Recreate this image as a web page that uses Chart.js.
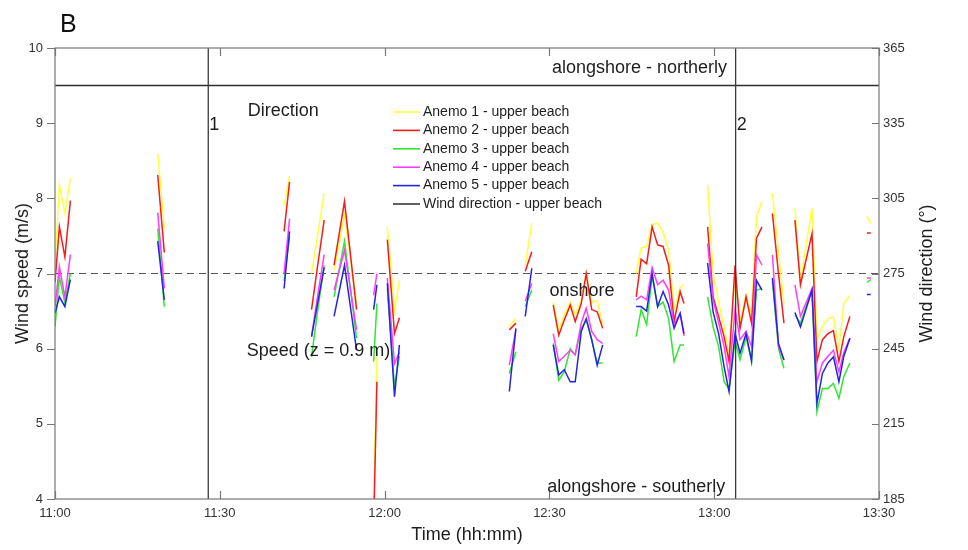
<!DOCTYPE html>
<html lang="en">
<head>
<meta charset="UTF-8">
<title>Wind speed and direction - upper beach</title>
<script src="https://cdn.jsdelivr.net/npm/chart.js@4.4.1/dist/chart.umd.min.js"></script>
<style>
  body { margin: 0; background: #fff; }
  #wrap { width: 968px; height: 550px; position: relative; }
</style>
</head>
<body>
<div id="wrap"><canvas id="windChart" width="968" height="550"></canvas></div>
<script>
// time in minutes after 11:00; a null in the value arrays is a gap in the record
const times = [
  0, 0.8, 1.8, 2.8, 10,
  18.7, 19.9, 30,
  41.7, 42.7, 44.5,
  46.7, 47.8, 49.0, 49.9,
  50.8, 52.7, 54.9, 56.5,
  58.0, 58.6, 59.5,
  60.5, 61.8, 62.7, 72,
  82.7, 83.9, 84.7,
  85.6, 86.8, 88.5,
  90.7, 91.7, 92.7, 93.8, 94.7, 95.8, 96.7, 97.7, 98.7, 99.7, 102,
  105.8, 106.7, 107.7, 108.7, 109.7, 110.7, 111.7, 112.7, 113.8, 114.5, 116.5,
  118.8, 119.8, 120.8, 121.8, 122.7, 123.8, 124.7, 125.8, 126.8, 127.7, 128.7, 129.6,
  130.6, 131.7, 132.7, 133.7,
  134.7, 135.7, 137.8, 138.7, 139.7, 140.7, 141.7, 142.7, 143.6, 144.7, 146,
  147.8, 148.5
];

// wind speed (m/s)
const anemo1 = [
  7.11, 8.18, 7.80, 8.27, null,
  8.60, 7.60, null,
  7.90, 8.30, null,
  7.00, 7.50, 8.07, null,
  7.05, 7.78, 6.60, null,
  3.80, 5.90, null,
  7.62, 6.50, 6.91, null,
  6.30, 6.40, null,
  7.11, 7.67, null,
  6.62, 6.25, 6.45, 6.62, 6.45, 6.64, 7.00, 6.62, 6.64, 6.32, null,
  7.00, 7.34, 7.36, 7.65, 7.67, 7.55, 7.31, 6.52, 6.81, 6.85, null,
  8.18, 7.00, 6.62, 6.30, 5.90, 6.95, 6.35, 6.72, 6.45, 7.76, 7.96, null,
  8.07, 7.30, 6.60, null,
  7.87, 6.90, 7.87, 6.12, 6.30, 6.40, 6.42, 6.00, 6.60, 6.71, null,
  7.76, 7.67
];
const anemo2 = [
  6.88, 7.62, 7.22, 7.97, null,
  8.31, 7.28, null,
  7.56, 8.22, null,
  6.52, 7.10, 7.71, null,
  7.11, 7.96, 6.52, null,
  3.60, 5.56, null,
  7.45, 6.20, 6.41, null,
  6.25, 6.34, null,
  7.03, 7.29, null,
  6.58, 6.18, 6.38, 6.58, 6.36, 6.60, 7.00, 6.52, 6.49, 6.27, null,
  6.69, 7.19, 7.13, 7.62, 7.38, 7.36, 7.11, 6.36, 6.76, 6.60, null,
  7.62, 6.69, 6.43, 6.16, 5.83, 7.11, 6.27, 6.69, 6.34, 7.47, 7.62, null,
  7.80, 7.00, 6.34, null,
  7.71, 6.85, 7.53, 5.83, 6.12, 6.20, 6.24, 5.83, 6.16, 6.43, null,
  7.54, 7.54
];
const anemo3 = [
  6.29, 6.96, 6.61, 7.00, null,
  7.60, 6.56, null,
  6.90, 7.50, null,
  5.89, 6.50, 7.11, null,
  6.69, 7.43, 6.14, null,
  5.83, 6.60, null,
  6.80, 5.50, 5.90, null,
  5.67, 5.96, null,
  6.56, 6.78, null,
  6.07, 5.58, 5.69, 6.00, 5.92, 6.27, 6.38, 6.12, 5.81, 5.81, null,
  6.16, 6.52, 6.32, 6.96, 6.56, 6.62, 6.40, 5.83, 6.05, 6.05, null,
  6.69, 6.29, 6.03, 5.56, 5.46, 6.10, 5.85, 6.15, 5.85, 6.78, 6.80, null,
  6.90, 6.00, 5.74, null,
  6.45, 6.34, 6.78, 5.16, 5.47, 5.47, 5.54, 5.34, 5.63, 5.81, null,
  6.88, 6.92
];
const anemo4 = [
  6.56, 7.09, 6.69, 7.25, null,
  7.81, 6.80, null,
  7.00, 7.73, null,
  6.16, 6.70, 7.25, null,
  6.78, 7.31, 6.25, null,
  6.71, 7.00, null,
  6.94, 5.80, 5.95, null,
  5.78, 6.25, null,
  6.63, 6.87, null,
  6.20, 5.83, 5.90, 5.98, 5.92, 6.34, 6.54, 6.23, 6.12, 6.07, null,
  6.65, 6.70, 6.65, 7.08, 6.85, 6.91, 6.78, 6.32, 6.47, 6.17, null,
  7.40, 6.65, 6.35, 6.03, 5.63, 6.52, 6.12, 6.23, 6.03, 7.25, 7.11, null,
  7.25, 6.03, 5.85, null,
  6.85, 6.43, 6.80, 5.56, 5.81, 5.90, 5.98, 5.69, 5.95, 6.14, null,
  6.94, 6.94
];
const anemo5 = [
  6.47, 6.69, 6.56, 6.92, null,
  7.43, 6.65, null,
  6.80, 7.56, null,
  6.16, 6.60, 7.08, null,
  6.43, 7.11, 5.98, null,
  6.52, 6.85, null,
  6.87, 5.36, 6.05, null,
  5.43, 6.27, null,
  6.43, 7.07, null,
  6.05, 5.65, 5.72, 5.56, 5.56, 6.23, 6.40, 6.12, 5.78, 6.05, null,
  6.56, 6.56, 6.50, 7.00, 6.56, 6.76, 6.58, 6.27, 6.47, 6.20, null,
  7.14, 6.49, 6.20, 5.76, 5.43, 6.20, 5.94, 6.20, 5.83, 6.91, 6.78, null,
  6.94, 6.07, 5.85, null,
  6.48, 6.29, 6.78, 5.27, 5.67, 5.81, 5.89, 5.56, 5.90, 6.14, null,
  6.72, 6.72
];

// wind direction (deg) - the two shifts marked 1 and 2
const dirTimes = [27.9, 27.9, 75, 123.9, 123.9];
const dirValues = [185, 365, null, 365, 185];
const northerlyLimit = 350;
const onshoreDir = 275;

const xTicks = [0, 30, 60, 90, 120, 150];
const speedTicks = [4, 5, 6, 7, 8, 9, 10];
const dirTicks = [185, 215, 245, 275, 305, 335, 365];

const colors = ['#ffff3c', '#f41c1c', '#2ee82e', '#ff3cff', '#2424e6'];
const FONT = "'Liberation Sans', Arial, sans-serif";

function hhmm(v) {
  const h = 11 + Math.floor(v / 60);
  const m = v % 60;
  return h + ':' + (m < 10 ? '0' : '') + m;
}

const anemos = [anemo1, anemo2, anemo3, anemo4, anemo5];
const datasets = anemos.map((vals, i) => ({
  label: 'Anemo ' + (i + 1) + ' - upper beach',
  data: times.map((t, k) => ({ x: t, y: vals[k] })),
  borderColor: colors[i],
  borderWidth: 1.5,
  pointRadius: 0,
  spanGaps: false,
  yAxisID: 'ySpeed',
  order: 5 - i
}));

datasets.push({
  label: 'Wind direction - upper beach',
  data: dirTimes.map((t, k) => ({ x: t, y: dirValues[k] })),
  borderColor: '#3a3a3a',
  borderWidth: 1.3,
  pointRadius: 0,
  spanGaps: false,
  yAxisID: 'yDir',
  order: 0
});
datasets.push({
  label: 'northerly',
  data: [{ x: 0, y: northerlyLimit }, { x: 150, y: northerlyLimit }],
  borderColor: '#2e2e2e',
  borderWidth: 1.5,
  pointRadius: 0,
  yAxisID: 'yDir',
  order: 0
});
datasets.push({
  label: 'onshore',
  data: [{ x: 0, y: onshoreDir }, { x: 150, y: onshoreDir }],
  borderColor: '#555',
  borderWidth: 1.2,
  borderDash: [7, 5],
  pointRadius: 0,
  yAxisID: 'yDir',
  order: 6
});

// text placed in data coordinates (minutes, m/s)
const notes = [
  { text: 'alongshore - northerly', x: 106.4, y: 9.74, align: 'center' },
  { text: 'Direction', x: 35.1, y: 9.16, align: 'left' },
  { text: '1', x: 28.1, y: 8.97, align: 'left' },
  { text: '2', x: 124.1, y: 8.97, align: 'left' },
  { text: 'onshore', x: 90.0, y: 6.77, align: 'left' },
  { text: 'Speed (z = 0.9 m)', x: 34.9, y: 5.97, align: 'left' },
  { text: 'alongshore - southerly', x: 89.6, y: 4.16, align: 'left' }
];

const decor = {
  id: 'decor',
  afterDraw(chart) {
    const ctx = chart.ctx;
    const a = chart.chartArea;
    const xs = chart.scales.x, ys = chart.scales.ySpeed, yd = chart.scales.yDir;
    ctx.save();

    // box
    ctx.strokeStyle = '#777';
    ctx.lineWidth = 1.2;
    ctx.strokeRect(a.left, a.top, a.right - a.left, a.bottom - a.top);

    // ticks: x inside (top and bottom), left outside, right inside
    ctx.beginPath();
    xTicks.forEach(v => {
      const px = Math.round(xs.getPixelForValue(v)) + 0.5;
      ctx.moveTo(px, a.bottom); ctx.lineTo(px, a.bottom - 8);
      ctx.moveTo(px, a.top); ctx.lineTo(px, a.top + 8);
    });
    speedTicks.forEach(v => {
      const py = Math.round(ys.getPixelForValue(v)) + 0.5;
      ctx.moveTo(a.left - 8, py); ctx.lineTo(a.left, py);
    });
    dirTicks.forEach(v => {
      const py = Math.round(yd.getPixelForValue(v)) + 0.5;
      ctx.moveTo(a.right - 7, py); ctx.lineTo(a.right, py);
    });
    ctx.stroke();

    // notes
    ctx.fillStyle = '#1e1e1e';
    ctx.font = '18px ' + FONT;
    ctx.textBaseline = 'middle';
    notes.forEach(n => {
      ctx.textAlign = n.align;
      ctx.fillText(n.text, xs.getPixelForValue(n.x), ys.getPixelForValue(n.y));
    });

    // legend inside the plot
    ctx.font = '14px ' + FONT;
    ctx.textAlign = 'left';
    const lx = a.left + 338, ly = a.top + 64;
    for (let i = 0; i < 6; i++) {
      const ds = chart.data.datasets[i];
      const y = ly + i * 18.4;
      ctx.strokeStyle = ds.borderColor;
      ctx.lineWidth = 1.6;
      ctx.beginPath();
      ctx.moveTo(lx, y); ctx.lineTo(lx + 27, y);
      ctx.stroke();
      ctx.fillStyle = '#1e1e1e';
      ctx.fillText(ds.label, lx + 30, y);
    }

    // right axis title, reading bottom to top
    ctx.save();
    ctx.translate(927, (a.top + a.bottom) / 2);
    ctx.rotate(-Math.PI / 2);
    ctx.font = '18px ' + FONT;
    ctx.textAlign = 'center';
    ctx.fillStyle = '#1e1e1e';
    ctx.fillText('Wind direction (\u00b0)', 0, 0);
    ctx.restore();

    // panel letter
    ctx.font = '25px ' + FONT;
    ctx.textAlign = 'left';
    ctx.textBaseline = 'alphabetic';
    ctx.fillStyle = '#111';
    ctx.fillText('B', 60, 32);

    ctx.restore();
  }
};

new Chart(document.getElementById('windChart'), {
  type: 'line',
  data: { datasets: datasets },
  options: {
    responsive: false,
    animation: false,
    layout: { padding: { top: 48, left: 0, right: 0, bottom: 0 } },
    plugins: {
      legend: { display: false },
      tooltip: { enabled: false }
    },
    elements: { line: { tension: 0 } },
    scales: {
      x: {
        type: 'linear',
        min: 0,
        max: 150,
        afterBuildTicks: s => { s.ticks = xTicks.map(v => ({ value: v })); },
        afterFit: s => { s.height = 51; },
        grid: { display: false, drawTicks: false },
        border: { display: false },
        ticks: {
          callback: v => hhmm(v),
          padding: 7,
          color: '#333',
          font: { family: FONT, size: 13 }
        },
        title: {
          display: true,
          text: 'Time (hh:mm)',
          color: '#1e1e1e',
          padding: { top: 0, bottom: 4 },
          font: { family: FONT, size: 18 }
        }
      },
      ySpeed: {
        position: 'left',
        min: 4,
        max: 10,
        afterBuildTicks: s => { s.ticks = speedTicks.map(v => ({ value: v })); },
        afterFit: s => { s.width = 55; },
        grid: { display: false, drawTicks: false },
        border: { display: false },
        ticks: {
          padding: 12,
          color: '#333',
          font: { family: FONT, size: 13 }
        },
        title: {
          display: true,
          text: 'Wind speed (m/s)',
          color: '#1e1e1e',
          padding: { top: 12, bottom: 0 },
          font: { family: FONT, size: 18 }
        }
      },
      yDir: {
        position: 'right',
        min: 185,
        max: 365,
        afterBuildTicks: s => { s.ticks = dirTicks.map(v => ({ value: v })); },
        afterFit: s => { s.width = 89; },
        grid: { display: false, drawTicks: false },
        border: { display: false },
        ticks: {
          padding: 4,
          color: '#333',
          font: { family: FONT, size: 13 }
        }
      }
    }
  },
  plugins: [decor]
});
</script>
</body>
</html>
